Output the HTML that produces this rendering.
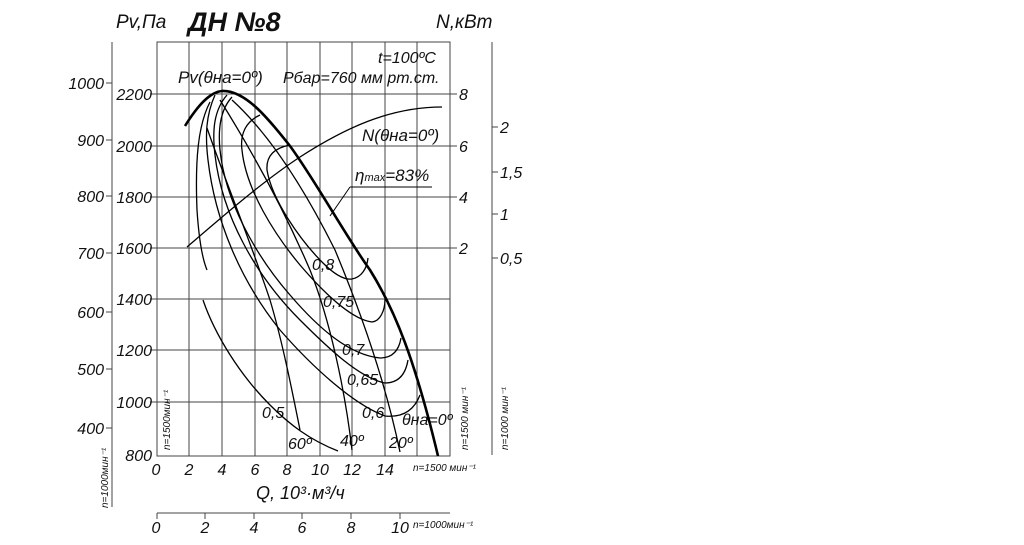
<!DOCTYPE html>
<html><head><meta charset="utf-8"><style>
html,body{margin:0;padding:0;background:#fff;}
svg{display:block;}
text{font-family:"Liberation Sans",sans-serif;font-style:italic;fill:#111;}
</style></head><body>
<svg width="1024" height="545" viewBox="0 0 1024 545" xmlns="http://www.w3.org/2000/svg">
<rect width="1024" height="545" fill="#fff"/>
<g stroke="#444" stroke-width="1" fill="none">
<rect x="157" y="42" width="293" height="414"/>
<path d="M189,42V456M222,42V456M255,42V456M287,42V456M320,42V456M352,42V456M385,42V456M417,42V456"/>
<path d="M150,94H457M150,146H457M150,197H457M150,248H457M150,299H450M150,350H450M150,402H450"/>
<path d="M112,42V507M106,83H112M106,140H112M106,196H112M106,253H112M106,312H112M106,369H112M106,428H112"/>
<path d="M492,42V455M492,127H498M492,172H498M492,214H498M492,258H498"/>
<path d="M157,513H450M157,513v6M205,513v6M254,513v6M302,513v6M351,513v6M400,513v6"/>
</g>
<g font-size="16">
<text x="116" y="28" font-size="19">Pv,Па</text>
<text x="188" y="31" font-size="27" font-weight="bold">ДН №8</text>
<text x="436" y="28" font-size="19">N,кBm</text>
<g text-anchor="end">
<text x="104" y="89">1000</text><text x="104" y="146">900</text><text x="104" y="202">800</text><text x="104" y="259">700</text><text x="104" y="318">600</text><text x="104" y="375">500</text><text x="104" y="434">400</text>
<text x="152" y="100">2200</text><text x="152" y="152">2000</text><text x="152" y="203">1800</text><text x="152" y="254">1600</text><text x="152" y="305">1400</text><text x="152" y="356">1200</text><text x="152" y="408">1000</text><text x="152" y="461">800</text>
</g>
<text x="459" y="100">8</text><text x="459" y="152">6</text><text x="459" y="203">4</text><text x="459" y="254">2</text>
<text x="500" y="133">2</text><text x="500" y="178">1,5</text><text x="500" y="220">1</text><text x="500" y="264">0,5</text>
<g text-anchor="middle">
<text x="156" y="475">0</text><text x="189" y="475">2</text><text x="222" y="475">4</text><text x="255" y="475">6</text><text x="287" y="475">8</text><text x="320" y="475">10</text><text x="352" y="475">12</text><text x="385" y="475">14</text>
<text x="156" y="533">0</text><text x="205" y="533">2</text><text x="254" y="533">4</text><text x="302" y="533">6</text><text x="351" y="533">8</text><text x="400" y="533">10</text>
</g>
<text x="256" y="499" font-size="18">Q, 10³·м³/ч</text>
<text x="413" y="471" font-size="10">n=1500 мин⁻¹</text>
<text x="413" y="528" font-size="10">n=1000мин⁻¹</text>
<text x="378" y="63">t=100ºC</text>
<text x="283" y="83">Рбар=760 мм рт.ст.</text>
<text x="178" y="83" font-size="17">Pv(θна=0º)</text>
<text x="362" y="141" font-size="17">N(θна=0º)</text>
<text x="355" y="181" font-size="17">η<tspan font-size="11">max</tspan>=83%</text>
<text x="312" y="270">0,8</text><text x="323" y="307">0,75</text><text x="342" y="355">0,7</text><text x="347" y="385">0,65</text><text x="362" y="418">0,6</text><text x="262" y="418">0,5</text>
<text x="288" y="449">60º</text><text x="340" y="446">40º</text><text x="389" y="448">20º</text>
<text x="402" y="425">θна=0º</text>
<text transform="translate(170,450) rotate(-90)" font-size="10">n=1500мин⁻¹</text>
<text transform="translate(468,450) rotate(-90)" font-size="10">n=1500 мин⁻¹</text>
<text transform="translate(508,450) rotate(-90)" font-size="10">n=1000 мин⁻¹</text>
<text transform="translate(108,508) rotate(-90)" font-size="10">n=1000мин⁻¹</text>
</g>
<g fill="none" stroke="#000">
<path stroke-width="2.6" d="M185,126 C198,105 210,92 222,91 C245,90 268,118 290,146 C315,180 345,235 370,270 C395,310 415,360 438,456"/>
<path stroke-width="1.3" d="M187,247 C230,210 265,180 300,157 C345,128 390,107 442,107"/>
<path stroke-width="1" d="M350,187H432M350,187L330,216"/>
<g stroke-width="1.3">
<path d="M290,145 C275,148 266,155 267,170 C272,200 300,240 323,263 C335,275 345,280 352,279 C362,277 367,268 368,258"/>
<path d="M260,115 C245,122 240,135 242,150 C246,190 275,235 300,265 C330,300 355,320 372,322 C380,321 385,311 385,299"/>
<path d="M232,97 C220,110 218,130 220,150 C225,200 255,255 290,295 C320,330 350,355 380,358 C393,358 399,350 401,338"/>
<path d="M227,95 C214,110 212,130 215,155 C222,215 255,275 300,320 C330,350 360,378 385,383 C400,383 406,372 408,360"/>
<path d="M215,95 C206,115 205,135 208,160 C215,220 240,280 280,330 C315,370 355,405 385,416 C405,418 415,408 420,395"/>
<path d="M210,102 C198,125 195,160 197,210 C199,240 202,258 207,270"/>
<path d="M203,300 C215,335 240,375 270,405 C290,425 310,440 338,451"/>
<path d="M207,128 C225,180 250,240 270,300 C282,340 292,390 300,430"/>
<path d="M220,100 C245,140 280,200 310,270 C330,320 345,390 352,450"/>
<path d="M232,100 C265,130 300,180 335,250 C360,310 385,380 400,452"/>
</g>
</g>
</svg>
</body></html>
